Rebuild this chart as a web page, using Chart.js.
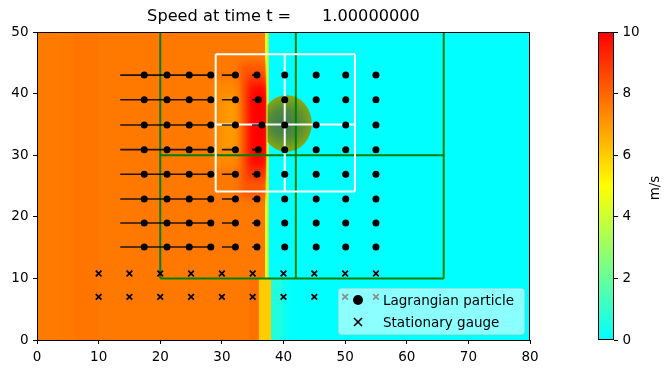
<!DOCTYPE html>
<html>
<head>
<meta charset="utf-8">
<script src="https://cdn.jsdelivr.net/npm/chart.js@4.4.1/dist/chart.umd.min.js"></script>
<style>
    html, body { margin: 0; padding: 0; background: #fff; }
    #wrap { position: relative; width: 669px; height: 374px; }
    #main { position: absolute; left: 0; top: 0; }
    #cbar { position: absolute; left: 560px; top: 0; }
</style>
</head>
<body>
<div id="wrap">
    <canvas id="main" width="669" height="374"></canvas>
    <canvas id="cbar" width="109" height="374"></canvas>
</div>
<script>
// Particle grid (x positions read at t = 1)
const particleRowsY = [43, 39, 34.9, 30.9, 26.9, 22.9, 19, 15.1];
const particleColsX = [17.4, 21.1, 24.7, 28.2, 32.2, 40.2, 45.3, 50.1, 55.0];
const frontColX = [35.7, 35.9, 36.5, 35.9, 35.7, 35.7, 35.7, 35.7];
// trail start for the moving columns (first five), and for the front column
const trailStartX = [13.5, 17.3, 21.1, 24.7, 30.0];
const frontTrailStartX = 34.9;

// Stationary gauges
const gaugeX = [10, 15, 20, 25, 30, 35, 40, 45, 50, 55];
const gaugeY = [10.8, 7];

// Box outlines [x0, y0, x1, y1]
const greenLines = [[20, 10, 20, 50], [42, 10, 42, 50], [66, 10, 66, 50], [20, 10, 66, 10], [20, 30, 66, 30]];
const whiteLines = [[29, 24.1, 29, 46.4], [51.6, 24.1, 51.6, 46.4], [29, 24.1, 51.6, 24.1], [29, 46.4, 51.6, 46.4],
    [40.2, 24.1, 40.2, 46.4], [29, 35, 51.6, 35]];

// Speed field patches [x0, x1, y0, y1, speed m/s]
const fieldBands = [
    [0, 37.3, 0, 50, 7.65],
    [0, 4, 0, 50, 7.58],
    [6, 10, 0, 50, 7.7],
    [37.3, 80, 0, 50, 0],
    [37.0, 37.6, 10, 50, 4.2],
    [34.5, 36.0, 0, 10, 7.8],
    [36.0, 38.0, 0, 10, 6.0],
    [38.0, 39.9, 0, 10, 0.6],
    [39.9, 41.0, 0, 10, 0.2]
];
// soft features behind the front
const fieldBlobs = [
    [28.5, 34, 28, 42, 7.3],
    [30, 33.5, 30.5, 39.5, 7.0],
    [33, 37.2, 23, 45, 8.3],
    [34, 37.2, 26, 43, 9.0],
    [34.5, 37.2, 28, 41.5, 9.8],
    [35, 37.2, 30, 40, 10]
];
// obstacle disk: [cx, cy, rx, ry]
const disk = [40.5, 35.15, 4.1, 4.6];

const colorTicks = [0, 2, 4, 6, 8, 10];
const titleText = 'Speed at time t =      1.00000000';

Chart.defaults.font.family = 'DejaVu Sans';
Chart.defaults.font.size = 13.5;
Chart.defaults.color = '#000';

function speedColor(v) {
    let r, g, b;
    if (v <= 5) {
        r = 255 * v / 5; g = 255; b = 255 * (1 - v / 5);
    } else {
        r = 255; g = 255 * (1 - (v - 5) / 5); b = 0;
    }
    return `rgb(${Math.round(r)},${Math.round(g)},${Math.round(b)})`;
}

// Build datasets
const particlePoints = [];
const trailPoints = [];
particleRowsY.forEach((y, r) => {
    particleColsX.forEach((x, c) => {
        particlePoints.push({ x: x, y: y });
        if (c < trailStartX.length) {
            trailPoints.push({ x: trailStartX[c], y: y }, { x: x, y: y }, { x: NaN, y: NaN });
        }
    });
    particlePoints.push({ x: frontColX[r], y: y });
    trailPoints.push({ x: frontTrailStartX, y: y }, { x: frontColX[r], y: y }, { x: NaN, y: NaN });
});

const gaugePoints = [];
gaugeY.forEach(y => gaugeX.forEach(x => gaugePoints.push({ x: x, y: y })));

function segmentData(lines) {
    const pts = [];
    lines.forEach(l => pts.push({ x: l[0], y: l[1] }, { x: l[2], y: l[3] }, { x: NaN, y: NaN }));
    return pts;
}

const fieldPlugin = {
    id: 'field',
    beforeDatasetsDraw(chart) {
        const { ctx, chartArea, scales: { x, y } } = chart;
        const rect = (p) => {
            const x0 = x.getPixelForValue(p[0]), x1 = x.getPixelForValue(p[1]);
            const y0 = y.getPixelForValue(p[2]), y1 = y.getPixelForValue(p[3]);
            ctx.fillStyle = speedColor(p[4]);
            ctx.fillRect(x0, y1, x1 - x0, y0 - y1);
        };
        ctx.save();
        ctx.beginPath();
        ctx.rect(chartArea.left, chartArea.top, chartArea.right - chartArea.left, chartArea.bottom - chartArea.top);
        ctx.clip();
        fieldBands.forEach(rect);

        // soft blobs, kept left of the front and above the gauges
        ctx.save();
        const fx = x.getPixelForValue(37.2);
        ctx.beginPath();
        ctx.rect(chartArea.left, chartArea.top, fx - chartArea.left, y.getPixelForValue(12) - chartArea.top);
        ctx.clip();
        ctx.filter = 'blur(3.5px)';
        fieldBlobs.forEach(rect);
        ctx.restore();

        // disk
        const cx = x.getPixelForValue(disk[0]), cy = y.getPixelForValue(disk[1]);
        const rx = x.getPixelForValue(disk[0] + disk[2]) - cx;
        const ry = cy - y.getPixelForValue(disk[1] + disk[3]);
        ctx.save();
        ctx.beginPath();
        ctx.rect(x.getPixelForValue(37.4), chartArea.top, chartArea.right, chartArea.bottom);
        ctx.clip();
        const g = ctx.createRadialGradient(cx - 4, cy, 0, cx, cy, Math.max(rx, ry));
        g.addColorStop(0, '#3f7a52');
        g.addColorStop(0.5, '#508a3a');
        g.addColorStop(1, '#88aa12');
        ctx.fillStyle = g;
        ctx.beginPath();
        ctx.ellipse(cx, cy, rx, ry, 0, 0, Math.PI * 2);
        ctx.fill();
        ctx.restore();
        ctx.restore();
    },
    afterDatasetsDraw(chart) {
        const { ctx, chartArea } = chart;
        ctx.save();
        ctx.strokeStyle = '#000';
        ctx.lineWidth = 1;
        ctx.strokeRect(chartArea.left + 0.5, chartArea.top + 0.5, chartArea.right - chartArea.left - 1, chartArea.bottom - chartArea.top);
        ctx.restore();
    },
    afterDraw(chart) {
        const { ctx, chartArea } = chart;
        ctx.save();
        // title centred over the axes
        ctx.font = '16.2px "DejaVu Sans"';
        ctx.fillStyle = '#000';
        ctx.textAlign = 'center';
        ctx.textBaseline = 'middle';
        ctx.fillText(titleText, (chartArea.left + chartArea.right) / 2, 17);

        // legend, lower right inside the axes
        const w = 186, h = 46;
        const left = chartArea.right - 6 - w, top = chartArea.bottom - 6 - h;
        ctx.fillStyle = 'rgba(255,255,255,0.55)';
        ctx.strokeStyle = 'rgba(204,204,204,0.55)';
        ctx.lineWidth = 1;
        ctx.beginPath();
        ctx.roundRect(left + 0.5, top + 0.5, w, h, 3);
        ctx.fill();
        ctx.stroke();

        const items = chart.data.datasets.filter(d => d.legend);
        items.forEach((d, i) => {
            const my = top + 12 + i * 22;
            const mx = left + 20;
            ctx.fillStyle = '#000';
            ctx.strokeStyle = '#000';
            if (d.pointStyle === 'circle') {
                ctx.beginPath();
                ctx.arc(mx, my, 5, 0, Math.PI * 2);
                ctx.fill();
            } else {
                ctx.lineWidth = 1.6;
                ctx.beginPath();
                ctx.moveTo(mx - 4, my - 4); ctx.lineTo(mx + 4, my + 4);
                ctx.moveTo(mx + 4, my - 4); ctx.lineTo(mx - 4, my + 4);
                ctx.stroke();
            }
            ctx.font = '13.5px "DejaVu Sans"';
            ctx.textAlign = 'left';
            ctx.fillText(d.label, left + 45, my + 1);
        });
        ctx.restore();
    }
};

new Chart(document.getElementById('main'), {
    type: 'scatter',
    data: {
        datasets: [
            {
                label: 'Lagrangian particle',
                legend: true,
                data: particlePoints,
                pointStyle: 'circle',
                pointRadius: 3.5,
                backgroundColor: '#000',
                borderWidth: 0,
                order: 1
            },
            {
                label: 'Stationary gauge',
                legend: true,
                data: gaugePoints,
                pointStyle: 'crossRot',
                pointRadius: 4,
                borderColor: '#000',
                borderWidth: 1.7,
                order: 2
            },
            {
                label: 'trails',
                data: trailPoints,
                showLine: true,
                spanGaps: false,
                pointRadius: 0,
                borderColor: 'rgba(0,0,0,0.85)',
                borderWidth: 1.6,
                order: 3
            },
            {
                label: 'white boxes',
                data: segmentData(whiteLines),
                showLine: true,
                spanGaps: false,
                pointRadius: 0,
                borderColor: '#fff',
                borderWidth: 2,
                order: 4
            },
            {
                label: 'green boxes',
                data: segmentData(greenLines),
                showLine: true,
                spanGaps: false,
                pointRadius: 0,
                borderColor: '#008000',
                borderWidth: 2,
                order: 5
            }
        ]
    },
    options: {
        responsive: false,
        animation: false,
        layout: { padding: { left: 0, right: 139, top: 32, bottom: 0 } },
        plugins: {
            legend: { display: false },
            tooltip: { enabled: false },
            title: { display: false }
        },
        scales: {
            x: {
                type: 'linear',
                min: 0, max: 80,
                ticks: { stepSize: 10, padding: 5, maxRotation: 0 },
                grid: { drawOnChartArea: false, tickLength: 4, color: '#000' },
                border: { color: '#000' },
                afterFit: (s) => { s.height = 34; }
            },
            y: {
                type: 'linear',
                min: 0, max: 50,
                ticks: { stepSize: 10, padding: 4.5 },
                grid: { drawOnChartArea: false, tickLength: 4, color: '#000' },
                border: { color: '#000' },
                afterFit: (s) => { s.width = 37; }
            }
        }
    },
    plugins: [fieldPlugin]
});

// Colorbar
const colorbarPlugin = {
    id: 'colorbar',
    beforeDatasetsDraw(chart) {
        const { ctx, chartArea, scales: { y } } = chart;
        const y0 = y.getPixelForValue(colorTicks[0]);
        const y1 = y.getPixelForValue(colorTicks[colorTicks.length - 1]);
        const g = ctx.createLinearGradient(0, y0, 0, y1);
        colorTicks.forEach(v => g.addColorStop(v / 10, speedColor(v)));
        g.addColorStop(0.5, speedColor(5));
        ctx.save();
        ctx.fillStyle = g;
        ctx.fillRect(chartArea.left, y1, chartArea.right - chartArea.left, y0 - y1);
        ctx.strokeStyle = '#000';
        ctx.lineWidth = 1;
        ctx.strokeRect(chartArea.left + 0.5, y1 + 0.5, chartArea.right - chartArea.left - 1, y0 - y1 - 1);
        ctx.restore();
    },
    afterDraw(chart) {
        const { ctx, chartArea } = chart;
        ctx.save();
        ctx.translate(95, (chartArea.top + chartArea.bottom) / 2 + 2);
        ctx.rotate(-Math.PI / 2);
        ctx.font = '13.5px "DejaVu Sans"';
        ctx.fillStyle = '#000';
        ctx.textAlign = 'center';
        ctx.textBaseline = 'middle';
        ctx.fillText('m/s', 0, 0);
        ctx.restore();
    }
};

new Chart(document.getElementById('cbar'), {
    type: 'scatter',
    data: { datasets: [{ data: [] }] },
    options: {
        responsive: false,
        animation: false,
        layout: { padding: { left: 38, right: 0, top: 32, bottom: 34 } },
        plugins: { legend: { display: false }, tooltip: { enabled: false } },
        scales: {
            x: { display: false, min: 0, max: 1 },
            y: {
                position: 'right',
                min: 0, max: 10,
                ticks: { stepSize: 2, padding: 4.5 },
                grid: { drawOnChartArea: false, tickLength: 4, color: '#000' },
                border: { display: false },
                afterFit: (s) => { s.width = 55; }
            }
        }
    },
    plugins: [colorbarPlugin]
});
</script>
</body>
</html>
